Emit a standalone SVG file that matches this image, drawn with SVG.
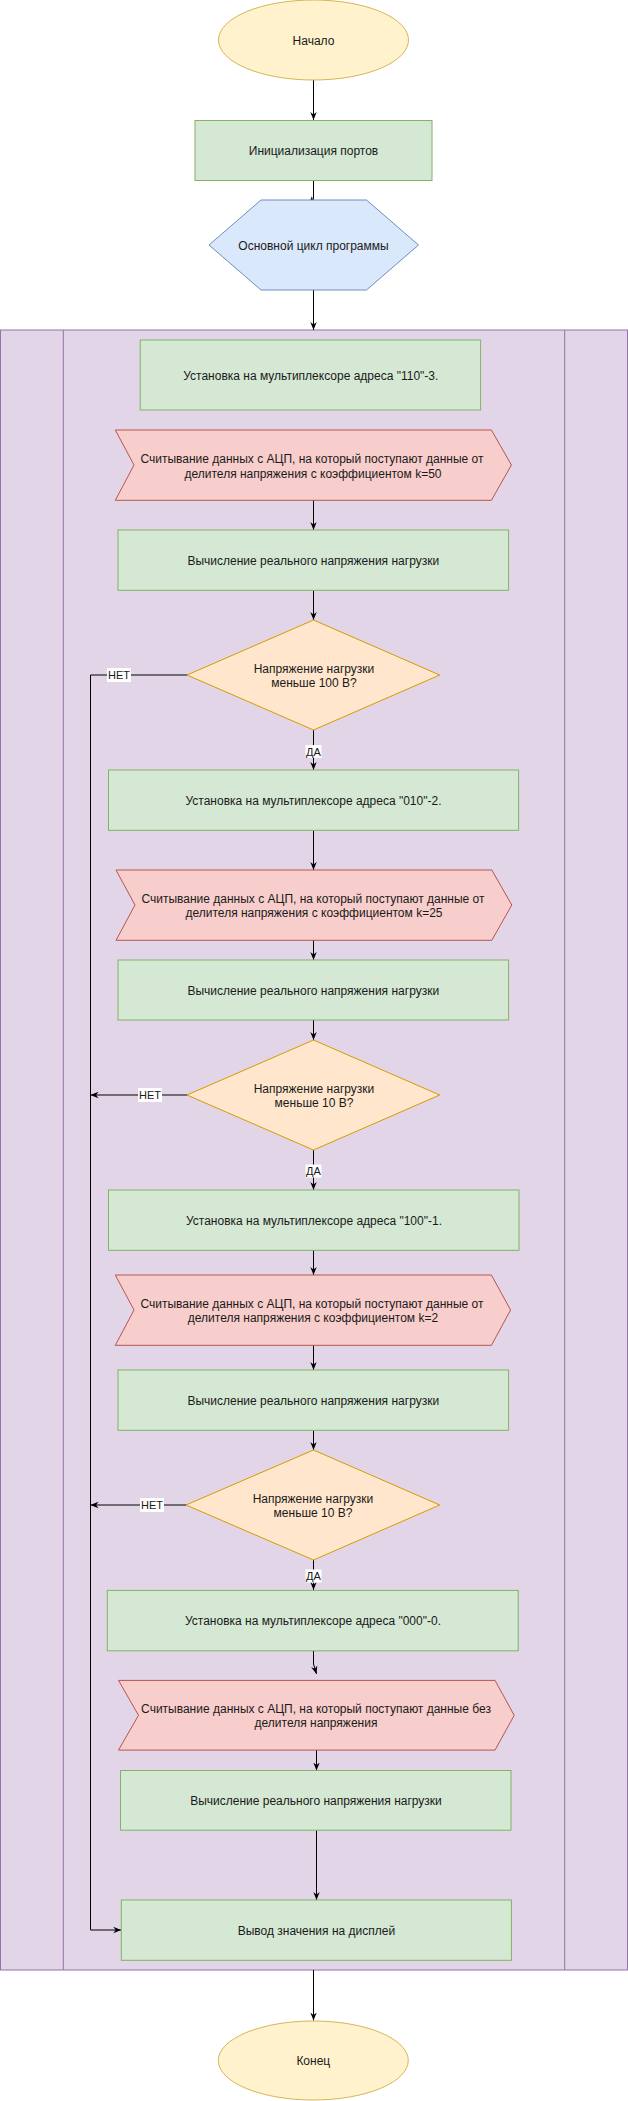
<svg xmlns="http://www.w3.org/2000/svg" width="628" height="2101" viewBox="0 0 628 2101">
<style>
text{font-family:"Liberation Sans",Arial,sans-serif;font-size:12px;fill:#1a1a1a;text-anchor:middle;dominant-baseline:central}
.term{fill:#fff2cc;stroke:#d6b656;stroke-width:1}
.proc{fill:#d5e8d4;stroke:#82b366;stroke-width:1}
.prep{fill:#dae8fc;stroke:#6c8ebf;stroke-width:1}
.data{fill:#f8cecc;stroke:#b85450;stroke-width:1}
.dec{fill:#ffe6cc;stroke:#d79b00;stroke-width:1}
.pool{fill:#e1d5e7;stroke:#9673a6;stroke-width:1}
.edge{fill:none;stroke:#000;stroke-width:1;marker-end:url(#arr)}
.lbl{fill:#fff;stroke:none}
.lt{font-size:11px}
</style>
<defs>
<marker id="arr" viewBox="0 0 10 10" refX="10" refY="5" markerWidth="8" markerHeight="8" markerUnits="userSpaceOnUse" orient="auto">
<path d="M0,1 L10,5 L0,9 L3,5 Z" fill="#000"/>
</marker>
</defs>
<g id="pool">
<rect class="pool" x="0.5" y="330" width="627" height="1640"/>
<line x1="63.3" y1="330" x2="63.3" y2="1970" stroke="#9673a6"/>
<line x1="564.7" y1="330" x2="564.7" y2="1970" stroke="#9673a6"/>
</g>
<g id="connectors">
<path class="edge" d="M313.5,80 V120"/>
<path class="edge" d="M313.5,180 V199 L309,204"/>
<path class="edge" d="M313.5,290 V330"/>
<path class="edge" d="M313.5,500 V530"/>
<path class="edge" d="M313.5,590 V620"/>
<path class="edge" d="M187,675 H90.5 V1930 H121.3"/>
<path class="edge" d="M313.5,730 V770"/>
<path class="edge" d="M313.5,830 V870"/>
<path class="edge" d="M313.5,940 V960"/>
<path class="edge" d="M313.5,1020 V1040"/>
<path class="edge" d="M187,1095 H90.5"/>
<path class="edge" d="M313.5,1150 V1190"/>
<path class="edge" d="M313.5,1250 V1275"/>
<path class="edge" d="M313.5,1345 V1370"/>
<path class="edge" d="M313.5,1430 V1450"/>
<path class="edge" d="M186,1505 H90.5"/>
<path class="edge" d="M313.5,1560 V1590"/>
<path class="edge" d="M313.5,1651 V1664 L316.5,1674"/>
<path class="edge" d="M316.5,1750 V1770.5"/>
<path class="edge" d="M316.5,1830 V1900"/>
<path class="edge" d="M313.5,1970 V2020.5"/>
<rect class="lbl" x="107" y="668" width="24" height="14"/>
<text class="lt" x="119" y="675">НЕТ</text>
<rect class="lbl" x="305.5" y="745" width="16" height="13"/>
<text class="lt" x="313.5" y="751.5">ДА</text>
<rect class="lbl" x="138" y="1088" width="24" height="14"/>
<text class="lt" x="150" y="1095">НЕТ</text>
<rect class="lbl" x="305.5" y="1164.5" width="16" height="13"/>
<text class="lt" x="313.5" y="1171">ДА</text>
<rect class="lbl" x="140" y="1498" width="24" height="14"/>
<text class="lt" x="152" y="1505">НЕТ</text>
<rect class="lbl" x="305.5" y="1569.5" width="16" height="13"/>
<text class="lt" x="313.5" y="1576">ДА</text>
</g>
<g id="start">
<ellipse class="term" cx="313.5" cy="40" rx="95" ry="40"/>
<text x="313.5" y="40.5">Начало</text>
</g>
<g id="init">
<rect class="proc" x="195" y="120.5" width="237" height="60"/>
<text x="313.5" y="151">Инициализация портов</text>
</g>
<g id="mainloop">
<polygon class="prep" points="261,200 366.5,200 418.5,245 366.5,290 261,290 209,245"/>
<text x="313.5" y="246">Основной цикл программы</text>
</g>
<g id="set110">
<rect class="proc" x="140.2" y="340" width="340.4" height="70"/>
<text x="310.8" y="376">Установка на мультиплексоре адреса "110"-3.</text>
</g>
<g id="read50">
<polygon class="data" points="115.3,430 491.4,430 511.4,465 491.4,500.3 115.3,500.3 134,465"/>
<text x="312" y="458.5">Считывание данных с АЦП, на который поступают данные от</text>
<text x="313" y="473.5">делителя напряжения с коэффициентом k=50</text>
</g>
<g id="calc1">
<rect class="proc" x="118" y="530" width="390.6" height="60.3"/>
<text x="313.3" y="560.5">Вычисление реального напряжения нагрузки</text>
</g>
<g id="dec100">
<polygon class="dec" points="313.5,620 439.7,675 313.5,730 187,675"/>
<text x="314" y="668.5">Напряжение нагрузки</text>
<text x="314" y="682.5">меньше 100 В?</text>
</g>
<g id="set010">
<rect class="proc" x="108.5" y="770" width="410.1" height="60.3"/>
<text x="313.5" y="801">Установка на мультиплексоре адреса "010"-2.</text>
</g>
<g id="read25">
<polygon class="data" points="116,870 491.8,870 511.8,905 491.8,940.3 116,940.3 135,905"/>
<text x="313" y="899">Считывание данных с АЦП, на который поступают данные от</text>
<text x="314" y="912.7">делителя напряжения с коэффициентом k=25</text>
</g>
<g id="calc2">
<rect class="proc" x="118" y="960" width="390.6" height="60"/>
<text x="313.3" y="990.5">Вычисление реального напряжения нагрузки</text>
</g>
<g id="dec10a">
<polygon class="dec" points="313.5,1040 439.7,1095 313.5,1150 187,1095"/>
<text x="314" y="1088.5">Напряжение нагрузки</text>
<text x="314" y="1102.5">меньше 10 В?</text>
</g>
<g id="set100">
<rect class="proc" x="108.5" y="1190" width="410.5" height="60.3"/>
<text x="314" y="1221">Установка на мультиплексоре адреса "100"-1.</text>
</g>
<g id="read2">
<polygon class="data" points="115.3,1275 491.4,1275 510.6,1310 491.4,1345.3 115.3,1345.3 134,1310"/>
<text x="312" y="1304">Считывание данных с АЦП, на который поступают данные от</text>
<text x="313" y="1317.7">делителя напряжения с коэффициентом k=2</text>
</g>
<g id="calc3">
<rect class="proc" x="118" y="1370" width="390.6" height="60.3"/>
<text x="313.3" y="1400.5">Вычисление реального напряжения нагрузки</text>
</g>
<g id="dec10b">
<polygon class="dec" points="313.5,1450 439.7,1505 313.5,1560 186,1505"/>
<text x="313" y="1498.5">Напряжение нагрузки</text>
<text x="313" y="1512.5">меньше 10 В?</text>
</g>
<g id="set000">
<rect class="proc" x="107.3" y="1590.4" width="410.9" height="60.4"/>
<text x="313" y="1620.7">Установка на мультиплексоре адреса "000"-0.</text>
</g>
<g id="read0">
<polygon class="data" points="118.5,1680.4 495,1680.4 514.2,1715.3 495,1750.1 118.5,1750.1 138.5,1715.3"/>
<text x="316" y="1708.7">Считывание данных с АЦП, на который поступают данные без</text>
<text x="316" y="1722.9">делителя напряжения</text>
</g>
<g id="calc4">
<rect class="proc" x="120.5" y="1770.5" width="390.5" height="59.7"/>
<text x="316" y="1800.5">Вычисление реального напряжения нагрузки</text>
</g>
<g id="display">
<rect class="proc" x="121.3" y="1900" width="390.1" height="60.3"/>
<text x="316.4" y="1931">Вывод значения на дисплей</text>
</g>
<g id="end">
<ellipse class="term" cx="313.3" cy="2060.5" rx="95" ry="39.5"/>
<text x="313.3" y="2060.5">Конец</text>
</g>
</svg>
